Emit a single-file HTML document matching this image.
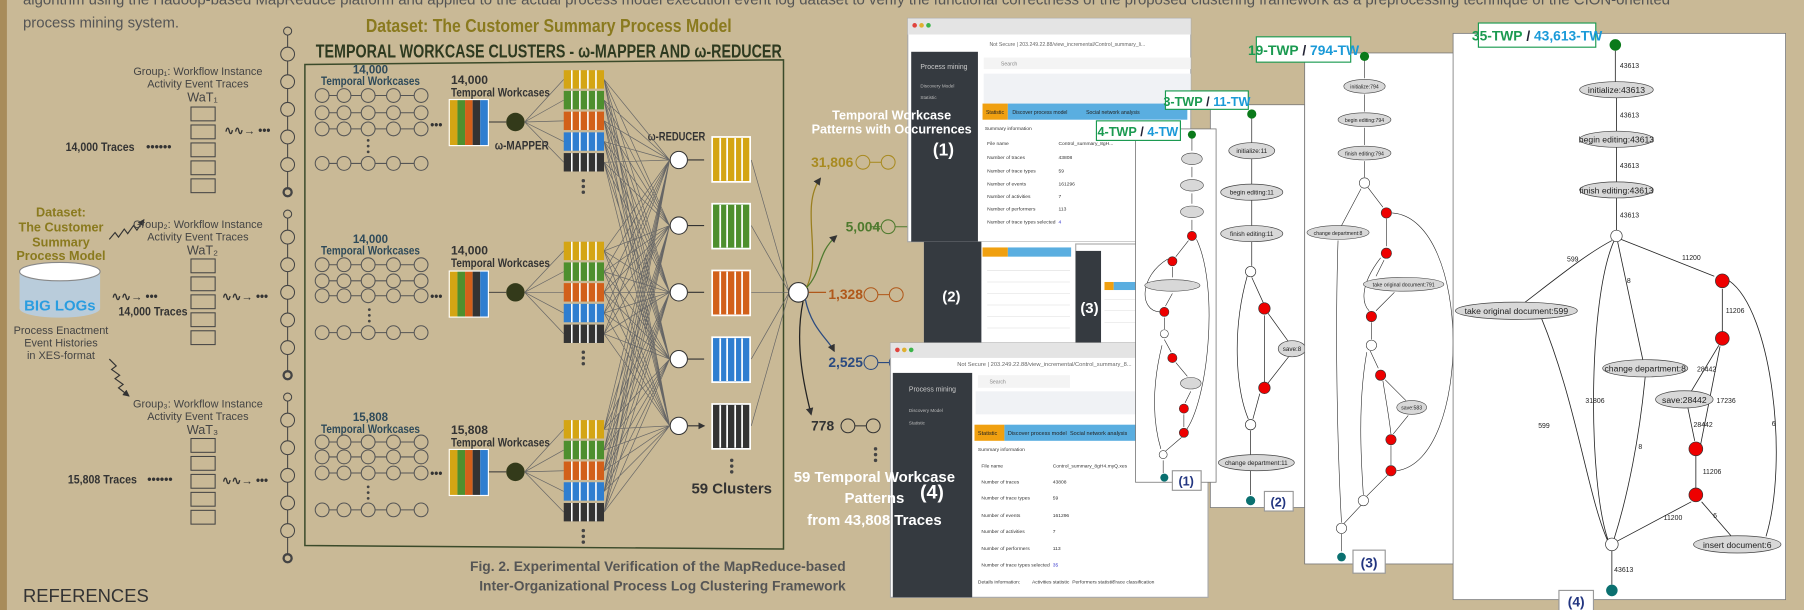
<!DOCTYPE html>
<html><head><meta charset="utf-8"><style>
html,body{margin:0;padding:0;background:#c9b996;}
svg{display:block}
text{font-family:"Liberation Sans",sans-serif}
.cd{font-family:"Liberation Sans Narrow","Liberation Sans",sans-serif;font-weight:bold}
</style></head><body>
<svg width="1804" height="610" viewBox="0 0 1568 530" preserveAspectRatio="none" xmlns="http://www.w3.org/2000/svg">
<defs>
<marker id="ar" markerWidth="6" markerHeight="6" refX="5" refY="3" orient="auto"><path d="M0,0 L6,3 L0,6z" fill="#333"/></marker>
<g id="chain" fill="none" stroke="#555" stroke-width="0.9">
<circle cx="0" cy="0" r="6"/><circle cx="19" cy="0" r="6"/><circle cx="40" cy="0" r="6"/><circle cx="62" cy="0" r="6"/><circle cx="86" cy="0" r="6"/>
<path d="M6 0H13M25 0H34M46 0H56M68 0H80"/>
</g>
<g id="achain" fill="none" stroke="#444" stroke-width="0.9">
<circle cx="0" cy="0" r="3.5"/>
<circle cx="0" cy="20" r="6"/><circle cx="0" cy="44" r="6"/><circle cx="0" cy="68" r="6"/><circle cx="0" cy="92" r="6"/><circle cx="0" cy="116" r="6"/>
<circle cx="0" cy="140" r="3.5" stroke-width="2"/>
<path d="M0 3.5V14M0 26V38M0 50V62M0 74V86M0 98V110M0 122V136"/>
</g>
<g id="bars"><rect x="0" y="0" width="35" height="41" fill="#fff"/><rect x="1" y="1" width="6.6" height="39" fill="#d4a514"/><rect x="7.6" y="1" width="6.6" height="39" fill="#4e8f2e"/><rect x="14.2" y="1" width="6.6" height="39" fill="#d2601a"/><rect x="20.8" y="1" width="6.6" height="39" fill="#333"/><rect x="27.4" y="1" width="6.6" height="39" fill="#2f7ed0"/></g>
<g id="stk"><rect width="35" height="16"/><path d="M7 0V16M14 0V16M21 0V16M28 0V16" stroke="#fff" stroke-width="1.4"/></g>
<g id="wes" fill="none" stroke="#444" stroke-width="0.9"><rect x="0" y="0" width="21" height="12"/><rect x="0" y="15.6" width="21" height="12"/><rect x="0" y="31.2" width="21" height="12"/><rect x="0" y="46.8" width="21" height="12"/><rect x="0" y="62.4" width="21" height="12"/></g>
</defs>
<rect width="1568" height="530" fill="#c9b996"/>
<rect width="6" height="530" fill="#a88c5a"/>
<text x="20" y="4" font-size="13" fill="#555">algorithm using the Hadoop-based MapReduce platform and applied to the actual process model execution event log dataset to verify the functional correctness of the proposed clustering framework as a preprocessing technique of the CION-oriented</text>
<text x="20" y="24" font-size="13" fill="#555">process mining system.</text>

<text x="477" y="28" font-size="16" text-anchor="middle" class="cd" fill="#8a7a1e" textLength="318" lengthAdjust="spacingAndGlyphs">Dataset: The Customer Summary Process Model</text>
<text x="477" y="50" font-size="16" text-anchor="middle" class="cd" fill="#2e3a20" textLength="405" lengthAdjust="spacingAndGlyphs">TEMPORAL WORKCASE CLUSTERS - ω-MAPPER AND ω-REDUCER</text>
<path d="M265 56 L681 52 L681 477 L265 474 Z" fill="none" stroke="#3a4a2a" stroke-width="1.3"/>

<!-- left dataset -->
<g class="cd" font-size="11" fill="#8a7a1e" text-anchor="middle"><text x="53" y="188">Dataset:</text><text x="53" y="201">The Customer</text><text x="53" y="214">Summary</text><text x="53" y="226">Process Model</text></g>
<ellipse cx="52" cy="268" rx="35" ry="8" fill="#b9ccdb"/>
<rect x="17" y="236" width="70" height="32" fill="#b9ccdb"/>
<ellipse cx="52" cy="236" rx="35" ry="8" fill="#fff" stroke="#888"/>
<text x="52" y="270" font-size="13" class="cd" fill="#2a9de0" text-anchor="middle">BIG LOGs</text>
<g font-size="9.5" fill="#444" text-anchor="middle"><text x="53" y="290">Process Enactment</text><text x="53" y="301">Event Histories</text><text x="53" y="312">in XES-format</text></g>
<path d="M95 208 l5 -6 l3 4 l5 -7 l3 4 l5 -7 l3 4 l6 -9" fill="none" stroke="#333" marker-end="url(#ar)"/>
<path d="M95 312 l6 6 l-4 3 l7 5 l-4 3 l7 5 l-4 3 l9 7" fill="none" stroke="#333" marker-end="url(#ar)"/>

<!-- groups -->
<g font-size="9.5" fill="#444" text-anchor="middle">
<text x="172" y="65">Group₁: Workflow Instance</text><text x="172" y="76">Activity Event Traces</text><text x="176" y="88" font-size="11">WaT₁</text>
<text x="172" y="198">Group₂: Workflow Instance</text><text x="172" y="209">Activity Event Traces</text><text x="176" y="221" font-size="11">WaT₂</text>
<text x="172" y="354">Group₃: Workflow Instance</text><text x="172" y="365">Activity Event Traces</text><text x="176" y="377" font-size="11">WaT₃</text>
</g>
<use href="#wes" x="166" y="93"/><use href="#wes" x="166" y="225"/><use href="#wes" x="166" y="381"/>
<g class="cd" font-size="10.5" fill="#333">
<text x="57" y="131" textLength="60" lengthAdjust="spacingAndGlyphs">14,000 Traces</text><text x="127" y="131">••••••</text>
<text x="103" y="274" textLength="60" lengthAdjust="spacingAndGlyphs">14,000 Traces</text>
<text x="59" y="420" textLength="60" lengthAdjust="spacingAndGlyphs">15,808 Traces</text><text x="128" y="420">••••••</text>
</g>
<g font-size="10" fill="#333" class="cd"><text x="195" y="117">∿∿→ •••</text><text x="97" y="261">∿∿→ •••</text><text x="193" y="261">∿∿→ •••</text><text x="193" y="421">∿∿→ •••</text></g>
<use href="#achain" x="250" y="27"/><use href="#achain" x="250" y="186"/><use href="#achain" x="250" y="345"/>

<!-- chains inside frame -->
<g class="cd" font-size="10" fill="#2e4a5a" text-anchor="middle">
<text x="322" y="64">14,000</text><text x="322" y="74" textLength="86" lengthAdjust="spacingAndGlyphs">Temporal Workcases</text>
<text x="322" y="211">14,000</text><text x="322" y="221" textLength="86" lengthAdjust="spacingAndGlyphs">Temporal Workcases</text>
<text x="322" y="366">15,808</text><text x="322" y="376" textLength="86" lengthAdjust="spacingAndGlyphs">Temporal Workcases</text>
</g>
<g class="cd" font-size="10.5" fill="#333">
<text x="392" y="73">14,000</text><text x="392" y="84" textLength="86" lengthAdjust="spacingAndGlyphs">Temporal Workcases</text>
<text x="392" y="221">14,000</text><text x="392" y="232" textLength="86" lengthAdjust="spacingAndGlyphs">Temporal Workcases</text>
<text x="392" y="377">15,808</text><text x="392" y="388" textLength="86" lengthAdjust="spacingAndGlyphs">Temporal Workcases</text>
<text x="430" y="130" textLength="47" lengthAdjust="spacingAndGlyphs">ω-MAPPER</text>
<text x="563" y="122" textLength="50" lengthAdjust="spacingAndGlyphs">ω-REDUCER</text>
<text x="636" y="429" font-size="13" text-anchor="middle">59 Clusters</text>
</g>
<use href="#chain" x="280" y="83"/><use href="#chain" x="280" y="98"/><use href="#chain" x="280" y="112"/><use href="#chain" x="280" y="142"/>
<use href="#chain" x="280" y="230"/><use href="#chain" x="280" y="244"/><use href="#chain" x="280" y="257"/><use href="#chain" x="280" y="289"/>
<use href="#chain" x="280" y="384"/><use href="#chain" x="280" y="397"/><use href="#chain" x="280" y="411"/><use href="#chain" x="280" y="443"/>
<g fill="#333" font-size="10" font-weight="bold"><text x="374" y="112">•••</text><text x="374" y="261">•••</text><text x="374" y="415">•••</text></g>
<g fill="#444"><circle cx="320" cy="122" r="1.2"/><circle cx="320" cy="127" r="1.2"/><circle cx="320" cy="132" r="1.2"/><circle cx="321" cy="269" r="1.2"/><circle cx="321" cy="274" r="1.2"/><circle cx="321" cy="279" r="1.2"/><circle cx="320" cy="423" r="1.2"/><circle cx="320" cy="428" r="1.2"/><circle cx="320" cy="433" r="1.2"/>
<circle cx="507" cy="157" r="1.5"/><circle cx="507" cy="162" r="1.5"/><circle cx="507" cy="167" r="1.5"/><circle cx="507" cy="306" r="1.5"/><circle cx="507" cy="311" r="1.5"/><circle cx="507" cy="316" r="1.5"/><circle cx="507" cy="461" r="1.5"/><circle cx="507" cy="466" r="1.5"/><circle cx="507" cy="471" r="1.5"/>
<circle cx="636" cy="400" r="1.5"/><circle cx="636" cy="405" r="1.5"/><circle cx="636" cy="410" r="1.5"/>
<circle cx="761" cy="390" r="1.5"/><circle cx="761" cy="395" r="1.5"/><circle cx="761" cy="400" r="1.5"/></g>
<use href="#bars" x="390" y="86"/><use href="#bars" x="390" y="235"/><use href="#bars" x="390" y="390"/>
<g fill="#333a1a"><circle cx="448" cy="106" r="8"/><circle cx="448" cy="254" r="8"/><circle cx="448" cy="410" r="8"/></g>
<path d="M425 106H440M425 254H440M425 410H440" stroke="#333" stroke-width="0.8"/>
<g stroke="#666" stroke-width="0.6" fill="none">
<path d="M456 106L490 69M456 106L490 87M456 106L490 105M456 106L490 123M456 106L490 141M456 254L490 218M456 254L490 236M456 254L490 254M456 254L490 272M456 254L490 290M456 410L490 373M456 410L490 391M456 410L490 409M456 410L490 427M456 410L490 445"/>
<path d="M525 69L582 139M525 69L582 196M525 69L582 254M525 69L582 312M525 69L582 370M525 87L582 139M525 87L582 196M525 87L582 254M525 87L582 312M525 87L582 370M525 105L582 139M525 105L582 196M525 105L582 254M525 105L582 312M525 105L582 370M525 123L582 139M525 123L582 196M525 123L582 254M525 123L582 312M525 123L582 370M525 141L582 139M525 141L582 196M525 141L582 254M525 141L582 312M525 141L582 370M525 218L582 139M525 218L582 196M525 218L582 254M525 218L582 312M525 218L582 370M525 236L582 139M525 236L582 196M525 236L582 254M525 236L582 312M525 236L582 370M525 254L582 139M525 254L582 196M525 254L582 254M525 254L582 312M525 254L582 370M525 272L582 139M525 272L582 196M525 272L582 254M525 272L582 312M525 272L582 370M525 290L582 139M525 290L582 196M525 290L582 254M525 290L582 312M525 290L582 370M525 373L582 139M525 373L582 196M525 373L582 254M525 373L582 312M525 373L582 370M525 391L582 139M525 391L582 196M525 391L582 254M525 391L582 312M525 391L582 370M525 409L582 139M525 409L582 196M525 409L582 254M525 409L582 312M525 409L582 370M525 427L582 139M525 427L582 196M525 427L582 254M525 427L582 312M525 427L582 370M525 445L582 139M525 445L582 196M525 445L582 254M525 445L582 312M525 445L582 370"/>
<path d="M653 139L686 254M653 196L686 254M653 254L685 254M653 312L686 254M653 370L686 254"/>
</g>
<g>
<use href="#stk" x="490" y="61" fill="#d4a514"/><use href="#stk" x="490" y="79" fill="#4e8f2e"/><use href="#stk" x="490" y="97" fill="#d2601a"/><use href="#stk" x="490" y="115" fill="#2f7ed0"/><use href="#stk" x="490" y="133" fill="#333"/>
<use href="#stk" x="490" y="210" fill="#d4a514"/><use href="#stk" x="490" y="228" fill="#4e8f2e"/><use href="#stk" x="490" y="246" fill="#d2601a"/><use href="#stk" x="490" y="264" fill="#2f7ed0"/><use href="#stk" x="490" y="282" fill="#333"/>
<use href="#stk" x="490" y="365" fill="#d4a514"/><use href="#stk" x="490" y="383" fill="#4e8f2e"/><use href="#stk" x="490" y="401" fill="#d2601a"/><use href="#stk" x="490" y="419" fill="#2f7ed0"/><use href="#stk" x="490" y="437" fill="#333"/>
</g>
<g fill="#fff" stroke="#333" stroke-width="0.9"><circle cx="590" cy="139" r="7.5"/><circle cx="590" cy="196" r="7.5"/><circle cx="590" cy="254" r="7.5"/><circle cx="590" cy="312" r="7.5"/><circle cx="590" cy="370" r="7.5"/></g>
<path d="M598 139H612M598 196H612M598 254H612M598 312H612M598 370H612" stroke="#333" marker-end="url(#ar)"/>
<g stroke="#fff" stroke-width="1.5">
<rect x="619" y="119" width="33" height="39" fill="#d4a514"/><rect x="619" y="177" width="33" height="39" fill="#4e8f2e"/><rect x="619" y="235" width="33" height="39" fill="#d2601a"/><rect x="619" y="293" width="33" height="39" fill="#2f7ed0"/><rect x="619" y="351" width="33" height="39" fill="#333"/>
<path d="M626 120V157M632 120V157M639 120V157M645 120V157M626 178V215M632 178V215M639 178V215M645 178V215M626 236V273M632 236V273M639 236V273M645 236V273M626 294V331M632 294V331M639 294V331M645 294V331M626 352V389M632 352V389M639 352V389M645 352V389"/>
</g>
<circle cx="694" cy="254" r="8.5" fill="#fff" stroke="#333"/>
<g fill="none" stroke-width="1.1">
<path d="M701 250 C715 220 695 180 713 155" stroke="#9a7f1f" marker-end="url(#ar)"/>
<path d="M701 250 C715 235 710 220 727 205" stroke="#4e7a2e" marker-end="url(#ar)"/>
<path d="M703 254 H718" stroke="#b0581a"/>
<path d="M700 260 C705 285 720 295 725 305" stroke="#2a4a80" marker-end="url(#ar)"/>
<path d="M698 262 C690 300 700 340 705 360" stroke="#222" marker-end="url(#ar)"/>
</g>
<g class="cd" font-size="12">
<text x="705" y="145" fill="#a88a20">31,806</text>
<text x="735" y="201" fill="#4e7a2e">5,004</text>
<text x="720" y="260" fill="#b0581a">1,328</text>
<text x="720" y="319" fill="#2a4a80">2,525</text>
<text x="705" y="374" fill="#333">778</text>
</g>
<g fill="none" stroke-width="0.9">
<g stroke="#a88a20"><circle cx="750" cy="141" r="6"/><circle cx="772" cy="141" r="6"/><path d="M756 141H766"/></g>
<g stroke="#4e7a2e"><circle cx="772" cy="197" r="6"/><circle cx="795" cy="197" r="6"/><circle cx="818" cy="197" r="6"/><circle cx="841" cy="197" r="6"/><circle cx="864" cy="197" r="6"/><path d="M756 197H766M778 197H789M801 197H812M824 197H835M847 197H858"/></g>
<g stroke="#b0581a"><circle cx="757" cy="256" r="6"/><circle cx="779" cy="256" r="6"/><path d="M763 256H773"/></g>
<g stroke="#2a4a80"><circle cx="757" cy="315" r="6"/><circle cx="779" cy="315" r="6"/><circle cx="800" cy="315" r="6"/><circle cx="822" cy="315" r="6"/><circle cx="842" cy="315" r="6"/><path d="M763 315H773M785 315H794M806 315H816"/></g>
<g stroke="#333"><circle cx="737" cy="370" r="6"/><circle cx="759" cy="370" r="6"/><path d="M743 370H753"/></g>
</g>

<!-- browser 1 -->
<g>
<rect x="789" y="16" width="246" height="194" fill="#fff" stroke="#aaa"/>
<rect x="789" y="16" width="246" height="14" fill="#e4e4e4"/>
<circle cx="795" cy="22" r="2" fill="#e0443e"/><circle cx="801" cy="22" r="2" fill="#e0b030"/><circle cx="807" cy="22" r="2" fill="#3cb44a"/>
<text x="860" y="40" font-size="4.5" fill="#666">Not Secure | 203.249.22.88/view_incremental/Control_summary_li...</text>
<rect x="792" y="45" width="58" height="165" fill="#353a40"/>
<text x="800" y="60" font-size="6" fill="#ccc">Process mining</text>
<text x="800" y="76" font-size="4" fill="#bbb">Discovery Model</text><text x="800" y="86" font-size="4" fill="#bbb">Statistic</text>
<rect x="855" y="50" width="180" height="10" fill="#f4f4f4"/><text x="870" y="57" font-size="4.5" fill="#888">Search</text>
<rect x="855" y="64" width="180" height="26" fill="#f0f2f5"/>
<rect x="854" y="90" width="22" height="14" fill="#f0a010"/><rect x="876" y="90" width="156" height="14" fill="#5aaee0"/>
<text x="857" y="99" font-size="4.5" fill="#222">Statistic</text><text x="880" y="99" font-size="4.5" fill="#222">Discover process model</text><text x="944" y="99" font-size="4.5" fill="#222">Social network analysis</text>
<g font-size="4.3" fill="#333"><text x="856" y="113">Summary information</text><text x="858" y="126">File name</text><text x="920" y="126">Control_summary_8gH...</text><text x="858" y="138">Number of traces</text><text x="920" y="138">43808</text><text x="858" y="150">Number of trace types</text><text x="920" y="150">59</text><text x="858" y="161">Number of events</text><text x="920" y="161">161296</text><text x="858" y="172">Number of activities</text><text x="920" y="172">7</text><text x="858" y="183">Number of performers</text><text x="920" y="183">113</text><text x="858" y="194">Number of trace types selected</text><text x="920" y="194" fill="#33c">4</text></g>
</g>
<!-- browser 2/3 -->
<g>
<rect x="803" y="210" width="210" height="90" fill="#fff"/>
<rect x="803" y="210" width="50" height="90" fill="#353a40"/>
<rect x="854" y="215" width="22" height="8" fill="#f0a010"/><rect x="876" y="215" width="55" height="8" fill="#5aaee0"/>
<text x="819" y="262" font-size="13" class="cd" fill="#fff">(2)</text>
<rect x="935" y="212" width="78" height="88" fill="#fff" stroke="#aaa"/>
<rect x="935" y="218" width="22" height="82" fill="#353a40"/>
<rect x="960" y="245" width="8" height="7" fill="#f0a010"/><rect x="968" y="245" width="45" height="7" fill="#5aaee0"/>
<text x="939" y="272" font-size="13" class="cd" fill="#fff">(3)</text>
<g stroke="#ddd" stroke-width="0.5"><path d="M858 235H930M858 245H930M858 255H930M858 265H930M858 275H930M858 285H930M960 260H1010M960 270H1010M960 280H1010"/></g>
</g>
<!-- browser 4 -->
<g>
<rect x="774" y="298" width="276" height="221" fill="#fff" stroke="#aaa"/>
<rect x="774" y="298" width="276" height="13" fill="#e4e4e4"/>
<circle cx="780" cy="304" r="2" fill="#e0443e"/><circle cx="786" cy="304" r="2" fill="#e0b030"/><circle cx="792" cy="304" r="2" fill="#3cb44a"/>
<text x="832" y="318" font-size="5" fill="#666">Not Secure | 203.249.22.88/view_incremental/Control_summary_8...</text>
<rect x="776" y="324" width="69" height="195" fill="#353a40"/>
<text x="790" y="340" font-size="6" fill="#ccc">Process mining</text>
<text x="790" y="358" font-size="4" fill="#bbb">Discovery Model</text><text x="790" y="369" font-size="4" fill="#bbb">Statistic</text>
<rect x="850" y="326" width="80" height="11" fill="#f4f4f4"/><text x="860" y="333" font-size="4.5" fill="#888">Search</text>
<rect x="848" y="340" width="200" height="20" fill="#f0f2f5"/>
<rect x="847" y="369" width="26" height="14" fill="#f0a010"/><rect x="873" y="369" width="117" height="14" fill="#5aaee0"/>
<text x="850" y="378" font-size="4.8" fill="#222">Statistic</text><text x="876" y="378" font-size="4.8" fill="#222">Discover process model</text><text x="930" y="378" font-size="4.8" fill="#222">Social network analysis</text>
<g font-size="4.3" fill="#333"><text x="850" y="392">Summary information</text><text x="853" y="406">File name</text><text x="915" y="406">Control_summary_8gH4.myQ.xes</text><text x="853" y="420">Number of traces</text><text x="915" y="420">43808</text><text x="853" y="434">Number of trace types</text><text x="915" y="434">59</text><text x="853" y="449">Number of events</text><text x="915" y="449">161296</text><text x="853" y="463">Number of activities</text><text x="915" y="463">7</text><text x="853" y="478">Number of performers</text><text x="915" y="478">113</text><text x="853" y="492">Number of trace types selected</text><text x="915" y="492" fill="#33c">35</text><text x="850" y="507">Details information:</text><text x="897" y="507">Activities statistic</text><text x="932" y="507">Performers statistic</text><text x="967" y="507">Trace classification</text></g>
</g>
<g class="cd" fill="#fff" text-anchor="middle">
<text x="775" y="104" font-size="11">Temporal Workcase</text><text x="775" y="116" font-size="11">Patterns with Occurrences</text>
<text x="820" y="135" font-size="15">(1)</text>
<text x="760" y="419" font-size="13">59 Temporal Workcase</text><text x="760" y="437" font-size="13">Patterns</text><text x="760" y="456" font-size="13">from 43,808 Traces</text>
<text x="810" y="433" font-size="17">(4)</text>
</g>
<g class="cd" font-size="12" fill="#555" text-anchor="end"><text x="735" y="496">Fig. 2. Experimental Verification of the MapReduce-based</text><text x="735" y="513">Inter-Organizational Process Log Clustering Framework</text></g>
<text x="20" y="523" font-size="16" fill="#333">REFERENCES</text>

<!-- panel 2 -->
<g>
<rect x="1052" y="91" width="82" height="350" fill="#fff" stroke="#777" stroke-width="0.7"/>
<g stroke="#222" stroke-width="0.6" fill="none"><path d="M1088 102V124M1088 138V160M1088 174V196M1088 210V231M1088 241L1098 263M1102 272L1120 297M1120 310L1102 333M1099 274V332M1095 342L1089 364M1084 240C1070 290 1075 340 1085 364M1087 374V395M1087 409V430"/></g>
<circle cx="1088" cy="99" r="4" fill="#0a7a1a"/>
<g fill="#d8d8d8" stroke="#444" stroke-width="0.6"><ellipse cx="1088" cy="131" rx="20" ry="7"/><ellipse cx="1088" cy="167" rx="27" ry="7"/><ellipse cx="1088" cy="203" rx="27" ry="7"/><ellipse cx="1123" cy="303" rx="12" ry="7"/><ellipse cx="1092" cy="402" rx="33" ry="7"/></g>
<g font-size="5.5" fill="#222" text-anchor="middle" font-family="Liberation Serif"><text x="1088" y="133">initialize:11</text><text x="1088" y="169">begin editing:11</text><text x="1088" y="205">finish editing:11</text><text x="1123" y="305">save:8</text><text x="1092" y="404">change department:11</text></g>
<circle cx="1087" cy="236" r="4.5" fill="#fff" stroke="#333" stroke-width="0.6"/><circle cx="1087" cy="369" r="4.5" fill="#fff" stroke="#333" stroke-width="0.6"/>
<circle cx="1099" cy="268" r="5" fill="#e00" stroke="#333" stroke-width="0.6"/><circle cx="1099" cy="337" r="5" fill="#e00" stroke="#333" stroke-width="0.6"/>
<circle cx="1087" cy="435" r="4" fill="#0a7070"/>
<rect x="1099" y="427" width="25" height="17" fill="#fff" stroke="#999"/><text x="1111" y="440" font-size="11" class="cd" fill="#223580" text-anchor="middle">(2)</text>
</g>
<!-- panel 1 -->
<g>
<rect x="987" y="112" width="70" height="307" fill="#fff" stroke="#777" stroke-width="0.7"/>
<g stroke="#222" stroke-width="0.5" fill="none"><path d="M1036 120V131M1036 145V154M1036 168V177M1036 191V200M1033 209L1022 223M1019 232V241M1019 255L1013 266M1012 276V286M1012 295L1018 306M1022 315L1032 327M1035 340L1030 350M1029 360V371M1027 380L1013 392M1010 300C1000 340 1003 370 1009 390M1011 400V411M1015 225C990 240 990 270 1008 271M1040 208C1060 250 1050 350 1030 375"/></g>
<circle cx="1036" cy="117" r="3.5" fill="#0a7a1a"/>
<g fill="#d8d8d8" stroke="#444" stroke-width="0.5"><ellipse cx="1036" cy="138" rx="9" ry="5"/><ellipse cx="1036" cy="161" rx="10" ry="5"/><ellipse cx="1036" cy="184" rx="10" ry="5"/><ellipse cx="1019" cy="248" rx="24" ry="5"/><ellipse cx="1035" cy="333" rx="9" ry="5"/></g>
<g fill="#e00" stroke="#333" stroke-width="0.5"><circle cx="1036" cy="205" r="4"/><circle cx="1019" cy="227" r="4"/><circle cx="1012" cy="271" r="4"/><circle cx="1019" cy="311" r="4"/><circle cx="1029" cy="355" r="4"/><circle cx="1029" cy="376" r="4"/></g>
<circle cx="1012" cy="290" r="3.5" fill="#fff" stroke="#333" stroke-width="0.5"/><circle cx="1011" cy="395" r="3.5" fill="#fff" stroke="#333" stroke-width="0.5"/>
<circle cx="1012" cy="415" r="3.5" fill="#0a7070"/>
<rect x="1019" y="409" width="25" height="17" fill="#fff" stroke="#999"/><text x="1031" y="422" font-size="11" class="cd" fill="#223580" text-anchor="middle">(1)</text>
</g>
<!-- panel 3 -->
<g>
<rect x="1134" y="46" width="135" height="444" fill="#fff" stroke="#777" stroke-width="0.7"/>
<g stroke="#222" stroke-width="0.5" fill="none"><path d="M1186 52V68M1186 82V97M1186 111V126M1186 140V154M1183 164L1166 196M1189 163L1202 180M1205 190V214M1203 226L1196 240M1212 254L1196 270M1192 280V295M1191 305L1198 320M1204 330L1222 348M1224 361L1211 377M1209 387V404M1188 306C1180 350 1183 400 1185 430M1202 331C1205 350 1207 360 1209 377M1206 413L1188 431M1163 209C1160 300 1163 400 1166 454M1183 439L1168 455M1166 464V479M1214 409C1280 400 1280 190 1210 185M1200 224C1180 250 1185 265 1190 270"/></g>
<circle cx="1186" cy="49" r="4" fill="#0a7a1a"/>
<g fill="#d8d8d8" stroke="#444" stroke-width="0.5"><ellipse cx="1186" cy="75" rx="18" ry="6"/><ellipse cx="1186" cy="104" rx="23" ry="6"/><ellipse cx="1186" cy="133" rx="23" ry="6"/><ellipse cx="1163" cy="202" rx="27" ry="6"/><ellipse cx="1220" cy="247" rx="35" ry="6"/><ellipse cx="1227" cy="354" rx="13" ry="6"/></g>
<g font-size="4.5" fill="#222" text-anchor="middle" font-family="Liberation Serif"><text x="1186" y="77">initialize:794</text><text x="1186" y="106">begin editing:794</text><text x="1186" y="135">finish editing:794</text><text x="1163" y="204">change department:8</text><text x="1220" y="249">take original document:791</text><text x="1227" y="356">save:583</text></g>
<g fill="#e00" stroke="#333" stroke-width="0.5"><circle cx="1205" cy="185" r="4.5"/><circle cx="1205" cy="220" r="4.5"/><circle cx="1192" cy="275" r="4.5"/><circle cx="1200" cy="326" r="4.5"/><circle cx="1209" cy="382" r="4.5"/><circle cx="1209" cy="409" r="4.5"/></g>
<g fill="#fff" stroke="#333" stroke-width="0.5"><circle cx="1186" cy="159" r="4.5"/><circle cx="1192" cy="300" r="4.5"/><circle cx="1185" cy="435" r="4.5"/><circle cx="1166" cy="459" r="4.5"/></g>
<circle cx="1166" cy="484" r="3.8" fill="#0a7070"/>
<rect x="1176" y="478" width="28" height="20" fill="#fff" stroke="#999"/><text x="1190" y="493" font-size="12" class="cd" fill="#223580" text-anchor="middle">(3)</text>
<rect x="1092" y="32" width="82" height="22" fill="#fff" stroke="#1a9a50"/>
<text x="1133" y="48" font-size="12" class="cd" text-anchor="middle"><tspan fill="#1a9a50">19-TWP</tspan><tspan fill="#223"> / </tspan><tspan fill="#1a9ad8">794-TW</tspan></text>
</g>
<!-- panel 4 -->
<g>
<rect x="1263" y="29" width="289" height="492" fill="#fff" stroke="#777" stroke-width="0.7"/>
<g stroke="#222" stroke-width="0.7" fill="none"><path d="M1404 44V71M1405 85V114M1405 128V158M1405 172V200M1401 209C1380 220 1355 240 1325 263M1409 208L1490 240M1406 210L1428 313M1403 209C1380 260 1380 420 1398 470M1497 251V289M1494 300L1470 340M1467 354L1473 383M1478 387L1495 301M1474 396V424M1470 436L1406 470M1479 436L1505 466M1535 466C1555 400 1540 270 1503 244M1340 277C1370 350 1380 430 1397 469M1430 327C1425 380 1415 430 1403 468M1401 478V508"/></g>
<circle cx="1404" cy="39" r="5" fill="#0a7a1a"/>
<g fill="#d8d8d8" stroke="#444" stroke-width="0.6"><ellipse cx="1405" cy="78" rx="32" ry="7"/><ellipse cx="1405" cy="121" rx="32" ry="7"/><ellipse cx="1405" cy="165" rx="32" ry="7"/><ellipse cx="1318" cy="270" rx="53" ry="7.5"/><ellipse cx="1430" cy="320" rx="37" ry="7.5"/><ellipse cx="1464" cy="347" rx="25" ry="7.5"/><ellipse cx="1510" cy="473" rx="38" ry="7.5"/></g>
<g font-size="7.5" fill="#222" text-anchor="middle" font-family="Liberation Serif"><text x="1405" y="81">initialize:43613</text><text x="1405" y="124">begin editing:43613</text><text x="1405" y="168">finish editing:43613</text><text x="1318" y="273">take original document:599</text><text x="1430" y="323">change department:8</text><text x="1464" y="350">save:28442</text><text x="1510" y="476">insert document:6</text></g>
<g font-size="6" fill="#222" font-family="Liberation Serif"><text x="1408" y="59">43613</text><text x="1408" y="102">43613</text><text x="1408" y="146">43613</text><text x="1408" y="189">43613</text><text x="1362" y="227">599</text><text x="1462" y="226">11200</text><text x="1414" y="246">8</text><text x="1500" y="272">11206</text><text x="1475" y="323">28442</text><text x="1492" y="350">17236</text><text x="1472" y="371">28442</text><text x="1480" y="412">11206</text><text x="1446" y="452">11200</text><text x="1489" y="450">6</text><text x="1540" y="370">6</text><text x="1378" y="350">31806</text><text x="1337" y="372">599</text><text x="1424" y="390">8</text><text x="1403" y="497">43613</text></g>
<g fill="#e00" stroke="#333" stroke-width="0.6"><circle cx="1497" cy="244" r="6"/><circle cx="1497" cy="294" r="6"/><circle cx="1474" cy="390" r="6"/><circle cx="1474" cy="430" r="6"/></g>
<g fill="#fff" stroke="#333" stroke-width="0.6"><circle cx="1405" cy="205" r="5"/><circle cx="1401" cy="473" r="5.5"/></g>
<circle cx="1401" cy="513" r="5" fill="#0a7070"/>
<rect x="1355" y="513" width="30" height="20" fill="#fff" stroke="#999"/><text x="1370" y="527" font-size="12" class="cd" fill="#223580" text-anchor="middle">(4)</text>
<rect x="1285" y="20" width="102" height="21" fill="#fff" stroke="#1a9a50"/>
<text x="1336" y="35" font-size="12" class="cd" text-anchor="middle"><tspan fill="#1a9a50">35-TWP</tspan><tspan fill="#223"> / </tspan><tspan fill="#1a9ad8">43,613-TW</tspan></text>
</g>
<rect x="1013" y="79" width="72" height="16" fill="#fff" stroke="#1a9a50"/>
<text x="1049" y="92" font-size="11" class="cd" text-anchor="middle"><tspan fill="#1a9a50">3-TWP</tspan><tspan fill="#223"> / </tspan><tspan fill="#1a9ad8">11-TW</tspan></text>
<rect x="953" y="105" width="73" height="17" fill="#fff" stroke="#1a9a50"/>
<text x="989" y="118" font-size="11" class="cd" text-anchor="middle"><tspan fill="#1a9a50">4-TWP</tspan><tspan fill="#223"> / </tspan><tspan fill="#1a9ad8">4-TW</tspan></text>
</svg>
</body></html>
